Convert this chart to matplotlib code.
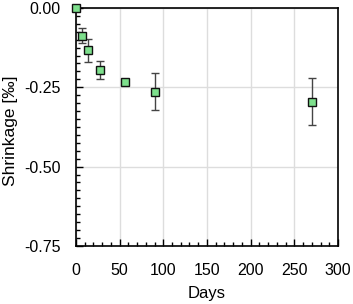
import matplotlib
matplotlib.use("Agg")
import matplotlib.pyplot as plt
from matplotlib.ticker import MultipleLocator, FuncFormatter

days = [0, 7, 14, 28, 56, 91, 270]
shrinkage = [0.0, -0.088, -0.134, -0.196, -0.235, -0.264, -0.295]
errors = [0.0, 0.024, 0.035, 0.028, 0.004, 0.058, 0.075]

plt.rcParams['font.family'] = ['Liberation Sans', 'DejaVu Sans']

fig = plt.figure(figsize=(3.53, 3.04), dpi=100)
ax = fig.add_axes([0.215, 0.191, 0.7425, 0.783])

ax.errorbar(days, shrinkage, yerr=errors, fmt='s', color='#444444', ecolor='#444444',
            elinewidth=1.0, capsize=2.6, capthick=1.0, markersize=6,
            markerfacecolor='#7ddf8c', markeredgecolor='#111111', markeredgewidth=1.0,
            zorder=3, clip_on=False)

ax.set_xlim(0, 300)
ax.set_ylim(-0.75, 0.0)
ax.xaxis.set_major_locator(MultipleLocator(50))
ax.xaxis.set_minor_locator(MultipleLocator(10))
ax.yaxis.set_major_locator(MultipleLocator(0.25))
ax.yaxis.set_minor_locator(MultipleLocator(0.025))
ax.yaxis.set_major_formatter(FuncFormatter(lambda v, p: f"{v:.2f}".replace('\u2212', '-') if abs(v) > 1e-9 else "0.00"))

ax.tick_params(which='major', direction='in', length=5, width=1, labelsize=11.5, color='black')
ax.tick_params(which='minor', direction='in', length=3, width=1, color='black')
ax.tick_params(axis='x', pad=12.5)
ax.tick_params(axis='y', pad=11)

ax.grid(True, which='major', color='#dddddd', linewidth=1)
ax.set_axisbelow(True)
for s in ax.spines.values():
    s.set_color('black')
    s.set_linewidth(1.2)

ax.set_xlabel('Days', fontsize=12)
ax.xaxis.set_label_coords(0.5, -0.17)
ax.set_ylabel('Shrinkage [‰]', fontsize=12.5)
ax.yaxis.set_label_coords(-0.22, 0.483)

fig.savefig('out.png', dpi=100)
